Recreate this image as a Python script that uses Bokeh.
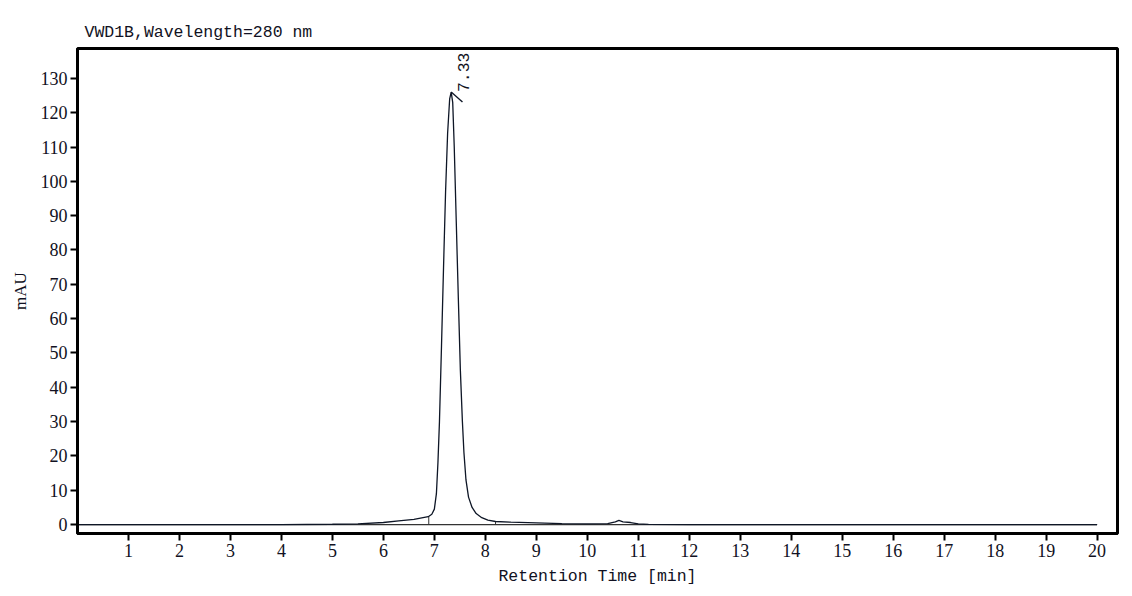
from bokeh.plotting import figure
from bokeh.models import FixedTicker, ColumnDataSource
from bokeh.embed import file_html
from bokeh.resources import INLINE
from bokeh.core.properties import value
import math

# ---- data ----
time_min = [0.0, 2.0, 4.0, 5.0, 5.5, 6.0, 6.3, 6.6, 6.88, 6.95, 7.0, 7.04, 7.07,
            7.10, 7.14, 7.18, 7.22, 7.26, 7.30, 7.33, 7.36, 7.39, 7.43, 7.47,
            7.51, 7.55, 7.58, 7.62, 7.67, 7.74, 7.82, 7.93, 8.05, 8.2, 8.5,
            9.0, 9.5, 10.0, 10.4, 10.55, 10.62, 10.7, 10.85, 11.0, 11.2, 12.0, 20.0]
mau = [0.0, 0.0, 0.0, 0.1, 0.2, 0.6, 1.1, 1.5, 2.3, 3.0, 4.5, 9.0, 18.0,
       30.0, 52.0, 75.0, 97.0, 114.0, 124.0, 126.0, 123.0, 110.0, 88.0, 66.0,
       45.0, 30.0, 21.0, 13.0, 8.0, 5.0, 3.2, 2.0, 1.3, 0.9, 0.7,
       0.5, 0.3, 0.2, 0.3, 0.8, 1.2, 0.8, 0.6, 0.2, 0.05, 0.0, 0.0]
baseline_start = [0.0]
baseline_end = [20.0]
drop_time = [6.89, 8.2]
drop_height = [2.3, 0.9]
peak_rt = [7.33]
peak_height = [126.0]
x_ticks = list(range(1, 21))
y_ticks = list(range(0, 140, 10))

TEXT = "#111122"

p = figure(width=1124, height=588, output_backend="svg", toolbar_location=None,
           x_range=(0, 20.4), y_range=(-2.6, 138.7),
           min_border_left=77, min_border_right=7, min_border_top=48, min_border_bottom=55,
           background_fill_color="white", border_fill_color="white")

p.title.text = "VWD1B,Wavelength=280 nm"
p.title.text_font = "Liberation Mono"
p.title.text_font_size = "16.5px"
p.title.text_font_style = "normal"
p.title.text_color = TEXT
p.title.offset = 7
p.title.standoff = 13

p.grid.visible = False
p.outline_line_color = "black"
p.outline_line_width = 3
p.outline_line_alpha = 1.0

for ax in (p.xaxis[0], p.yaxis[0]):
    ax.axis_line_color = "black"
    ax.axis_line_width = 3
    ax.major_tick_out = 7
    ax.major_tick_in = 0
    ax.major_tick_line_width = 2
    ax.major_tick_line_color = "black"
    ax.minor_tick_line_color = None
    ax.major_label_text_font = "Liberation Serif"
    ax.major_label_text_font_size = "18px"
    ax.major_label_text_color = TEXT
    ax.axis_label_text_color = TEXT
    ax.axis_label_text_font_style = "normal"

p.xaxis.ticker = FixedTicker(ticks=x_ticks)
p.yaxis.ticker = FixedTicker(ticks=y_ticks)
p.xaxis.major_label_standoff = 3
p.yaxis.major_label_standoff = 3

p.xaxis.axis_label = "Retention Time [min]"
p.xaxis.axis_label_text_font = "Liberation Mono"
p.xaxis.axis_label_text_font_size = "16.5px"
p.xaxis.axis_label_standoff = 7

p.yaxis.axis_label = "mAU"
p.yaxis.axis_label_text_font = "Liberation Serif"
p.yaxis.axis_label_text_font_size = "17px"
p.yaxis.axis_label_standoff = 8

# baseline and drop lines
p.segment(x0=baseline_start, y0=[0.0], x1=baseline_end, y1=[0.0],
          line_color="#333333", line_width=1.2)
p.segment(x0=drop_time, y0=[0.0] * len(drop_time), x1=drop_time, y1=drop_height,
          line_color="#333333", line_width=1.0)

# signal
p.line(time_min, mau, line_color="#0e1626", line_width=1.3)

# peak label with leader
src = ColumnDataSource(dict(x=peak_rt, y=peak_height, t=["%.2f" % v for v in peak_rt]))
p.text(x="x", y="y", text="t", source=src, angle=math.pi / 2,
       text_align="left", text_baseline="middle", x_offset=12, y_offset=0,
       text_font=value("Liberation Mono"), text_font_size="16.5px", text_color=TEXT)
p.ray(x=peak_rt, y=peak_height, length=15, length_units="screen", angle=-0.72,
      line_color="#0e1626", line_width=1.4)

open("out.html", "w").write(file_html(p, INLINE))
